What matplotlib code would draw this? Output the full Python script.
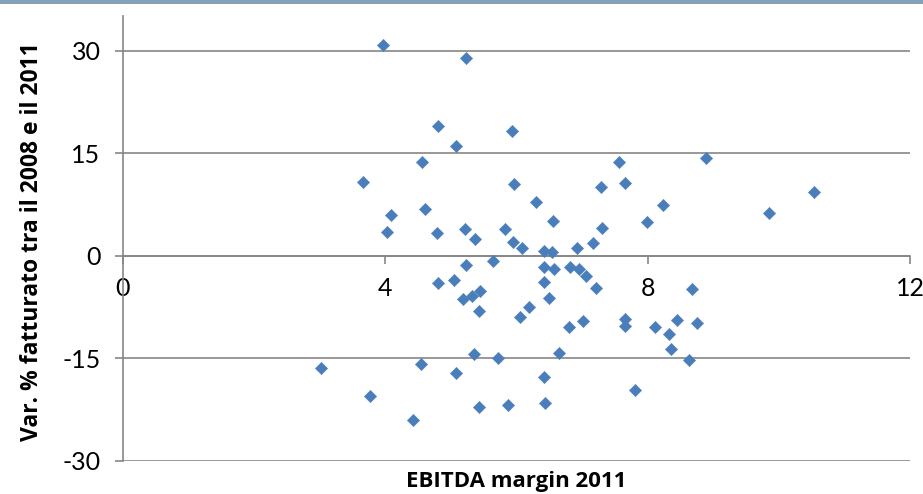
import matplotlib
matplotlib.use("Agg")
import matplotlib.pyplot as plt
from matplotlib.patches import Rectangle

# EBITDA margin 2011 (x) and revenue change 2008-2011 (y)
ebitda_margin = [3.96, 5.23, 4.81, 5.08, 4.56, 3.66, 4.61, 4.09, 4.03, 4.79,
                 5.21, 5.37, 5.23, 5.65, 5.93, 7.56, 8.89, 5.97, 7.66, 7.29,
                 10.53, 6.30, 8.24, 9.85, 6.56, 7.99, 5.83, 7.30, 5.95, 6.08,
                 6.42, 6.54, 6.92, 7.17, 5.05, 6.42, 6.58, 6.82, 6.96, 7.06,
                 4.81, 5.18, 5.32, 5.45, 6.42, 7.21, 5.43, 6.50, 6.19, 6.05,
                 6.81, 7.01, 7.65, 7.66, 8.12, 8.33, 8.45, 8.75, 8.67, 8.35,
                 8.63, 5.35, 5.72, 6.65, 5.08, 6.42, 7.81, 5.43, 5.87, 6.44,
                 3.03, 4.54, 3.77, 4.43]
var_fatturato = [30.9, 29.0, 19.0, 16.1, 13.8, 10.8, 6.9, 5.9, 3.5, 3.3,
                 3.9, 2.4, -1.4, -0.7, 18.3, 13.8, 14.3, 10.5, 10.7, 10.0,
                 9.4, 7.9, 7.4, 6.2, 5.1, 5.0, 3.9, 4.1, 2.0, 1.2,
                 0.7, 0.5, 1.1, 1.9, -3.6, -1.6, -2.0, -1.6, -2.0, -2.9,
                 -4.0, -6.3, -5.9, -5.1, -3.9, -4.7, -8.1, -6.2, -7.5, -8.9,
                 -10.4, -9.6, -9.2, -10.3, -10.5, -11.4, -9.4, -9.8, -4.9, -13.7,
                 -15.3, -14.4, -15.0, -14.2, -17.1, -17.8, -19.7, -22.1, -21.9, -21.6,
                 -16.5, -15.8, -20.6, -24.0]

x_ticks = [0, 4, 8, 12]
y_ticks = [-30, -15, 0, 15, 30]
x_title = "EBITDA margin 2011"
y_title = "Var. % fatturato tra il 2008 e il 2011"

plt.rcParams['font.family'] = ['Lato', 'DejaVu Sans']

fig = plt.figure(figsize=(9.23, 4.94), dpi=100)
ax = fig.add_axes([122.7 / 923, 1 - 460.7 / 494, (910 - 122.7) / 923, (460.7 - 16) / 494])

grey = '#868686'
ax.scatter(ebitda_margin, var_fatturato, marker='D', s=40, color='#4a7ebb',
           edgecolors='#4a7ebb', linewidths=0.3, zorder=3)

ax.set_xlim(0, 12)
ax.set_ylim(-30, 35.1)
ax.set_xticks(x_ticks)
ax.set_yticks(y_ticks)
ax.set_xticklabels([str(v) for v in x_ticks])
ax.set_yticklabels([str(v) for v in y_ticks])

ax.grid(axis='y', color=grey, linewidth=1.2, zorder=0)
ax.set_axisbelow(True)

for s in ['top', 'right']:
    ax.spines[s].set_visible(False)
ax.spines['bottom'].set_position(('data', 0))
ax.spines['bottom'].set_color(grey)
ax.spines['bottom'].set_linewidth(1.2)
ax.spines['left'].set_color(grey)
ax.spines['left'].set_linewidth(1.2)

ax.tick_params(axis='x', direction='out', length=6, width=1.2, color=grey,
               labelsize=18, pad=9, labelcolor='black')
ax.tick_params(axis='y', direction='out', length=6, width=1.2, color=grey,
               labelsize=18, pad=10, labelcolor='black')

title_font = ['Open Sans', 'DejaVu Sans']
fig.text(516 / 923, 1 - 481 / 494, x_title, ha='center', va='center',
         fontsize=16, fontweight='bold', family=title_font)
fig.text(32 / 923, 1 - 242 / 494, y_title, ha='center', va='center',
         rotation=90, fontsize=16.5, fontweight='bold', family=title_font)

# top banner strip
fig.patches.append(Rectangle((0, 1 - 4 / 494), 1, 4 / 494, transform=fig.transFigure,
                             facecolor='#83a1b7', edgecolor='none', zorder=5))

fig.savefig('out.png', dpi=100)
